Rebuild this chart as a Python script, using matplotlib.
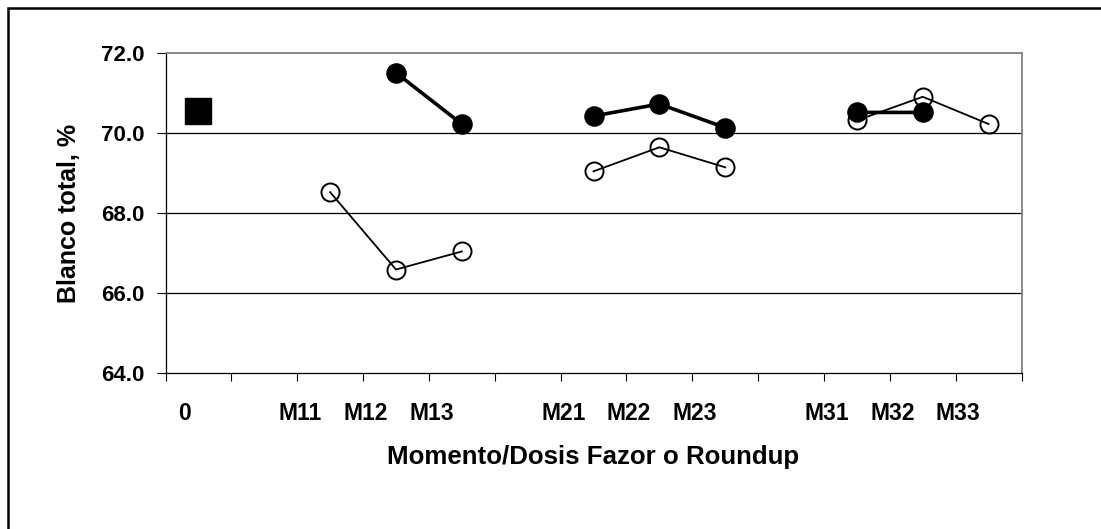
import numpy as np
import matplotlib
matplotlib.use("Agg")
import matplotlib.pyplot as plt
from matplotlib.lines import Line2D

plt.rcParams['font.family'] = ['Liberation Sans', 'DejaVu Sans']
plt.rcParams['font.weight'] = 'bold'

# ---- data ----
categories = ["0", "", "M11", "M12", "M13", "", "M21", "M22", "M23", "", "M31", "M32", "M33"]
control = [70.55, np.nan, np.nan, np.nan, np.nan, np.nan, np.nan,
           np.nan, np.nan, np.nan, np.nan, np.nan, np.nan]
open_series = [np.nan, np.nan, 68.52, 66.59, 67.04, np.nan, 69.04, 69.64, 69.14,
               np.nan, 70.31, 70.90, 70.22]
filled_series = [np.nan, np.nan, np.nan, 71.50, 70.22, np.nan, 70.42, 70.72, 70.13,
                 np.nan, 70.51, 70.51, np.nan]
y_ticks = [64.0, 66.0, 68.0, 70.0, 72.0]

W, H, DPI = 1101, 529, 100
fig = plt.figure(figsize=(W / DPI, H / DPI), dpi=DPI)
fig.patch.set_facecolor('white')

L, R, T, B = 165.5, 1021.5, 52.7, 373.3
ax = fig.add_axes([L / W, 1 - B / H, (R - L) / W, (B - T) / H])

x = np.arange(len(categories))
n = len(categories)

# gridlines (interior)
for yv in y_ticks[1:-1]:
    ax.axhline(yv, color='black', lw=0.9, zorder=1)

ax.plot(x, open_series, color='black', lw=1.3, marker='o', ms=13,
        markerfacecolor='none', markeredgecolor='black', mew=1.4, zorder=3)
ax.plot(x, filled_series, color='black', lw=2.6, marker='o', ms=13.8,
        markerfacecolor='black', markeredgecolor='black', zorder=4)
ax.plot(x, control, linestyle='none', marker='s', ms=18.5,
        markerfacecolor='black', markeredgecolor='black', zorder=5)

ax.set_xlim(-0.5, n - 0.5)
ax.set_ylim(y_ticks[0], y_ticks[-1])

# major ticks at category boundaries (no labels)
ax.set_xticks(np.arange(n + 1) - 0.5)
ax.set_xticklabels([])
ax.tick_params(axis='x', which='major', direction='out', length=5.4, width=0.8, color='black')

# category labels as minor ticks
lab_idx = [i for i, c in enumerate(categories) if c]
lab_pos = [(-0.21 if categories[i] == "0" else i - 0.46) for i in lab_idx]
ax.set_xticks(lab_pos, minor=True)
ax.set_xticklabels([categories[i] for i in lab_idx], minor=True,
                   fontsize=16.5, fontweight='bold', va='center')
ax.tick_params(axis='x', which='minor', length=0, pad=29.3)

ax.set_yticks(y_ticks)
ax.set_yticklabels([f"{v:.1f}" for v in y_ticks], fontsize=16, fontweight='bold')
ax.tick_params(axis='y', direction='out', length=6.5, width=0.8, pad=8.3, color='black')

for s in ['top', 'right']:
    ax.spines[s].set_color('#808080')
    ax.spines[s].set_linewidth(1.3)
for s in ['left', 'bottom']:
    ax.spines[s].set_color('black')
    ax.spines[s].set_linewidth(0.9)

ax.set_ylabel("Blanco total, %", fontsize=18, fontweight='bold', va='center')
ax.yaxis.set_label_coords((68.5 - L) / (R - L), 0.5)
ax.set_xlabel("Momento/Dosis Fazor o Roundup", fontsize=18.6, fontweight='bold', va='center')
ax.xaxis.set_label_coords(0.5, -(457 - B) / (B - T))

# outer chart frame (left & top visible)
fx = 7.5 / W
fy = 1 - 7.5 / H
fig.add_artist(Line2D([fx, fx, 1.0], [0.0, fy, fy], transform=fig.transFigure,
                      color='black', lw=1.8, solid_joinstyle='miter'))

fig.savefig("out.png", dpi=DPI)
